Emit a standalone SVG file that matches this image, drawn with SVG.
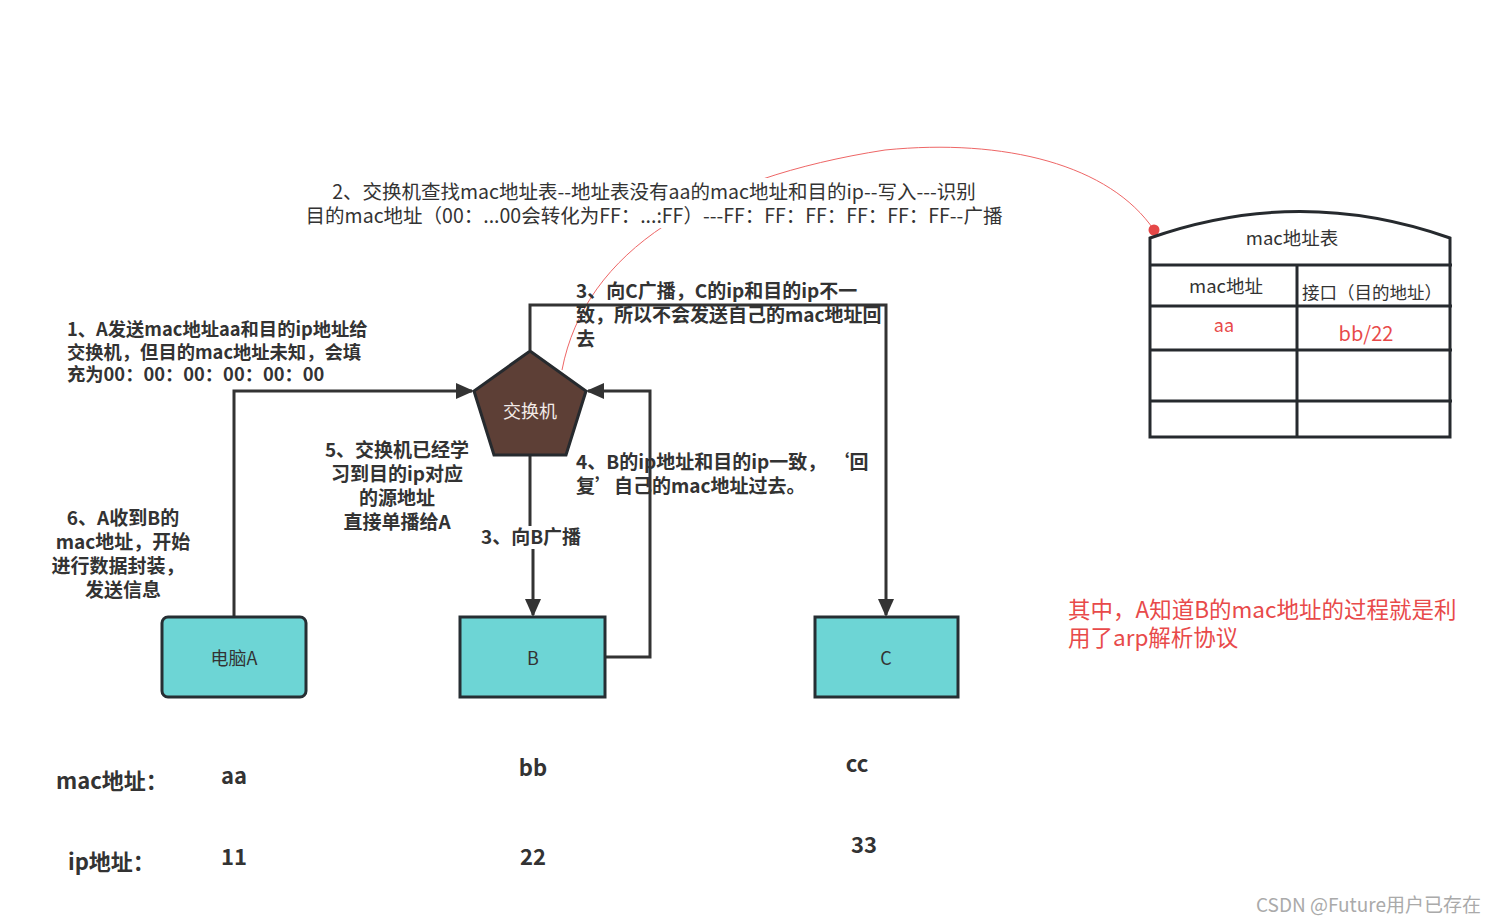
<svg xmlns="http://www.w3.org/2000/svg" width="1497" height="924" viewBox="0 0 1497 924">
<style>
text{font-family:"Noto Sans CJK SC","Noto Sans",sans-serif;fill:#333}
.b{font-weight:bold;font-size:19px}
.b1{font-weight:bold;font-size:18.3px}
.r{font-size:18px}
.c{text-anchor:middle}
.box{fill:#6dd5d5;stroke:#262e33;stroke-width:3}
.ln{fill:none;stroke:#333;stroke-width:3}
.tb{fill:none;stroke:#262a2e;stroke-width:3}
.red{fill:#e84a4a}
.big{font-weight:bold;font-size:22px}
</style>
<defs>
<marker id="ah" markerUnits="userSpaceOnUse" markerWidth="18" markerHeight="16" refX="16" refY="8" orient="auto">
<path d="M0,0 L18,8 L0,16 Z" fill="#333"/>
</marker>
</defs>
<rect width="1497" height="924" fill="#fff"/>

<g id="link">
<path d="M562,370 C585,250 705,178 885,150 C1005,138 1110,165 1154,230" fill="none" stroke="#ee6666" stroke-width="1"/>
<circle cx="1154" cy="230" r="5.5" fill="#e54848"/>
</g>

<g id="connectors">
<path class="ln" d="M234,617 V391 H472" marker-end="url(#ah)"/>
<path class="ln" d="M530,455 V526 M533,549 V615" marker-end="url(#ah)"/>
<path class="ln" d="M530,350 V305 H886 V615" marker-end="url(#ah)"/>
<path class="ln" d="M605,657 H650 V391 H588" marker-end="url(#ah)"/>
</g>

<g id="switch">
<polygon points="530,351 586,391 566,455 494,455 474,391" fill="#5d3f36" stroke="#262a2e" stroke-width="3"/>
<text x="530" y="418" class="c" style="fill:#f2ebe8;font-size:18px">交换机</text>
</g>

<g id="pcA">
<rect x="162" y="617" width="144" height="80" rx="6" class="box"/>
<text x="234" y="665" class="c r">电脑A</text>
</g>
<g id="pcB">
<rect x="460" y="617" width="145" height="80" class="box"/>
<text x="533" y="665" class="c r">B</text>
</g>
<g id="pcC">
<rect x="815" y="617" width="143" height="80" class="box"/>
<text x="886" y="665" class="c r">C</text>
</g>

<g id="mactable">
<path class="tb" d="M1150,238 Q1300,185 1450,238 V437 H1150 Z"/>
<path class="tb" d="M1150,265 H1452 M1150,306 H1452 M1150,350 H1452 M1150,401 H1452 M1297,265 V437"/>
<text x="1292" y="245" class="c" style="font-size:18.5px">mac地址表</text>
<text x="1226" y="293" class="c" style="font-size:18.5px">mac地址</text>
<text x="1302" y="299" style="font-size:17.5px">接口（目的地址）</text>
<text x="1224" y="332" class="c red" style="font-size:18px">aa</text>
<text x="1366" y="341" class="c red" style="font-size:20px">bb/22</text>
</g>

<g id="label2">
<rect x="300" y="178" width="710" height="50" fill="#fff"/>
<text x="654" y="199" class="c" style="font-size:19.5px">2、交换机查找mac地址表--地址表没有aa的mac地址和目的ip--写入---识别</text>
<text x="654" y="223" class="c" style="font-size:19.5px">目的mac地址（00：...00会转化为FF：...:FF）---FF：FF：FF：FF：FF：FF--广播</text>
</g>

<g id="label1">
<text x="67" y="336" class="b1">1、A发送mac地址aa和目的ip地址给</text>
<text x="67" y="359" class="b1">交换机，但目的mac地址未知，会填</text>
<text x="67" y="381" class="b1">充为00：00：00：00：00：00</text>
</g>

<g id="label3c">
<text x="576" y="298" class="b">3、向C广播，C的ip和目的ip不一</text>
<text x="576" y="322" class="b">致，所以不会发送自己的mac地址回</text>
<text x="576" y="346" class="b">去</text>
</g>

<g id="label4">
<text x="576" y="469" class="b">4、B的ip地址和目的ip一致，  ‘回</text>
<text x="576" y="493" class="b">复’自己的mac地址过去。</text>
</g>

<g id="label5">
<text x="397" y="457" class="b c">5、交换机已经学</text>
<text x="397" y="481" class="b c">习到目的ip对应</text>
<text x="397" y="505" class="b c">的源地址</text>
<text x="397" y="529" class="b c">直接单播给A</text>
</g>

<g id="label3b">
<text x="531" y="544" class="b c">3、向B广播</text>
</g>

<g id="label6">
<text x="123" y="525" class="b c">6、A收到B的</text>
<text x="123" y="549" class="b c">mac地址，开始</text>
<text x="118" y="573" class="b c">进行数据封装，</text>
<text x="123" y="597" class="b c">发送信息</text>
</g>

<g id="note">
<text x="1068" y="618" class="red" style="font-size:22.5px">其中，A知道B的mac地址的过程就是利</text>
<text x="1068" y="646" class="red" style="font-size:22.5px">用了arp解析协议</text>
</g>

<g id="addresses">
<text x="56" y="789" class="big">mac地址：</text>
<text x="234" y="784" class="big c">aa</text>
<text x="533" y="776" class="big c">bb</text>
<text x="857" y="772" class="big c">cc</text>
<text x="68" y="870" class="big">ip地址：</text>
<text x="234" y="865" class="big c">11</text>
<text x="533" y="865" class="big c">22</text>
<text x="864" y="853" class="big c">33</text>
</g>

<text x="1481" y="912" style="font-size:19px;fill:#aaa;text-anchor:end">CSDN @Future用户已存在</text>
</svg>
